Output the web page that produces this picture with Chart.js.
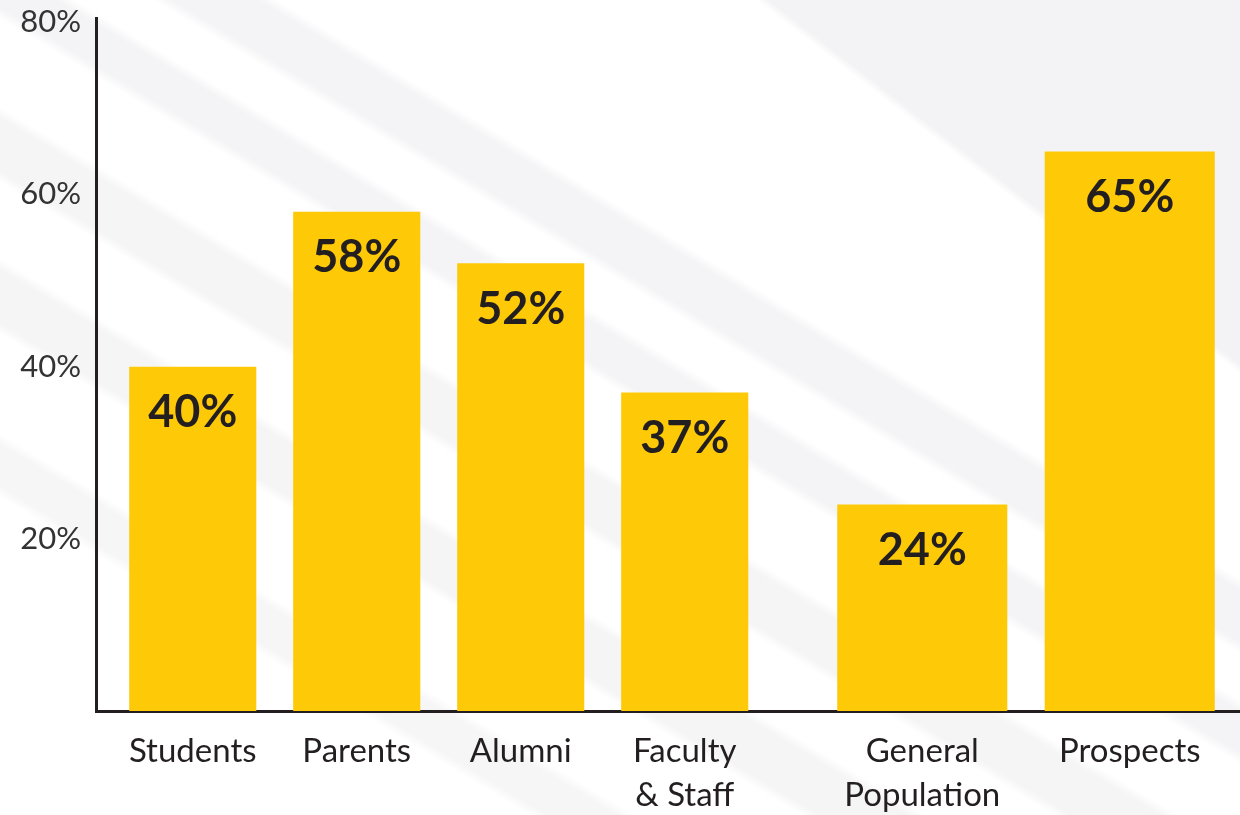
<!DOCTYPE html>
<html>
<head>
<meta charset="utf-8">
<script src="https://cdn.jsdelivr.net/npm/chart.js@4.4.1/dist/chart.umd.min.js"></script>
<style>
  html, body { margin: 0; padding: 0; width: 1240px; height: 815px; overflow: hidden; }
  body {
    background:
      linear-gradient(217.7deg, #f3f3f5 0px, #f3f3f5 288px, rgba(255,255,255,0) 296px),
      linear-gradient(211deg,
        #ffffff 0px,
        #ffffff 496px, #f4f4f6 506px, #f4f4f6 550px, #ffffff 560px,
        #ffffff 600px, #f4f4f6 610px, #f4f4f6 645px, #ffffff 655px,
        #ffffff 730px, #f5f5f6 740px, #f5f5f6 785px, #ffffff 795px,
        #ffffff 860px, #f5f5f6 870px, #f5f5f6 915px, #ffffff 925px,
        #ffffff 1010px, #f6f6f7 1020px, #f6f6f7 1055px, #ffffff 1065px,
        #ffffff 1337px);
  }
  #wrap { position: relative; width: 1240px; height: 815px; }
</style>
</head>
<body>
<div id="wrap"><canvas id="chart" width="1240" height="815"></canvas></div>
<script>
// ---- data ----
const categories = ['Students', 'Parents', 'Alumni', ['Faculty', '& Staff'], ['General', 'Population'], 'Prospects'];
const shares = [40, 58, 52, 37, 24, 65];
const segments = ['University', 'University', 'University', 'University', 'Benchmark', 'Benchmark'];
const yTickValues = [20, 40, 60, 80];

// ---- layout (slot widths in axis units, not data) ----
const SLOT = { University: 1, Benchmark: 1.265 };
const BAR_FILL = { University: 0.775, Benchmark: 1.037 };
const GROUP_GAP = 0.316;

const centers = [];
let cursor = 0;
segments.forEach((s, i) => {
  if (i > 0 && s !== segments[i - 1]) cursor += GROUP_GAP;
  centers.push(cursor + SLOT[s] / 2);
  cursor += SLOT[s];
});

const groups = [...new Set(segments)];
const datasets = groups.map(g => ({
  label: g,
  data: shares.map((v, i) => segments[i] === g ? { x: centers[i], y: v } : null).filter(Boolean),
  backgroundColor: '#FEC907',
  borderWidth: 0,
  barPercentage: BAR_FILL[g],
  categoryPercentage: 1,
  grouped: false
}));

const INK = '#231f20';

const valueLabels = {
  id: 'valueLabels',
  afterDatasetsDraw(chart) {
    const ctx = chart.ctx;
    ctx.save();
    ctx.font = 'bold 45px Lato';
    ctx.fillStyle = INK;
    ctx.textAlign = 'center';
    ctx.textBaseline = 'middle';
    chart.data.datasets.forEach((ds, di) => {
      chart.getDatasetMeta(di).data.forEach((bar, i) => {
        ctx.fillText(ds.data[i].y + '%', bar.x, bar.y + 46);
      });
    });
    ctx.restore();
  }
};

new Chart(document.getElementById('chart'), {
  type: 'bar',
  data: { datasets },
  plugins: [valueLabels],
  options: {
    responsive: false,
    animation: false,
    layout: { padding: { top: 18, right: 0, bottom: 0, left: 0 } },
    plugins: { legend: { display: false }, tooltip: { enabled: false } },
    scales: {
      x: {
        type: 'linear',
        offset: false,
        min: -0.09,
        max: cursor + 0.04,
        afterBuildTicks: s => { s.ticks = centers.map(v => ({ value: v })); },
        afterFit: s => { s.height = 104; s.paddingLeft = 0; s.paddingRight = 0; },
        ticks: {
          autoSkip: false,
          maxRotation: 0,
          padding: 19,
          color: INK,
          font: { family: 'Lato', size: 33, lineHeight: 1.32 },
          callback: v => categories[centers.indexOf(v)]
        },
        grid: { display: false, drawTicks: false },
        border: { color: INK, width: 3 }
      },
      y: {
        min: 0,
        max: 80.5,
        afterBuildTicks: s => { s.ticks = yTickValues.map(v => ({ value: v })); },
        afterFit: s => { s.width = 96; s.paddingTop = 0; s.paddingBottom = 0; },
        ticks: {
          padding: 15,
          color: '#333333',
          font: { family: 'Lato', size: 31 },
          callback: v => v + '%'
        },
        grid: { display: false, drawTicks: false },
        border: { color: INK, width: 3 }
      }
    }
  }
});
</script>
</body>
</html>
